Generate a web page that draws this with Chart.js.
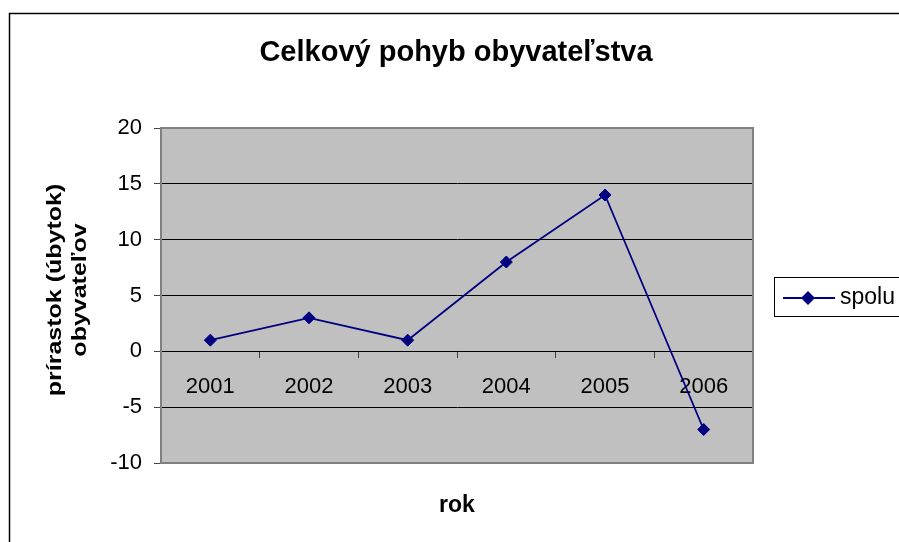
<!DOCTYPE html>
<html>
<head>
<meta charset="utf-8">
<script src="https://cdn.jsdelivr.net/npm/chart.js@4"></script>
<style>
  body { margin: 0; background: #fff; }
  canvas { display: block; }
</style>
</head>
<body>
<canvas id="graf" width="899" height="542"></canvas>
<script>
// data
const roky = ['2001', '2002', '2003', '2004', '2005', '2006'];
const spolu = [1, 3, 1, 8, 14, -7];
const yTicks = [20, 15, 10, 5, 0, -5, -10];

const FONT = '"Liberation Sans", Arial, sans-serif';
const NAVY = '#000080';

// frame, plot background, titles and legend
const decor = {
  id: 'decor',
  beforeDraw(chart) {
    const ctx = chart.ctx, a = chart.chartArea;
    ctx.save();
    ctx.fillStyle = '#c0c0c0';
    ctx.fillRect(a.left, a.top, a.right - a.left, a.bottom - a.top);
    ctx.restore();
  },
  afterDraw(chart) {
    const ctx = chart.ctx, a = chart.chartArea;
    ctx.save();
    // plot border
    ctx.strokeStyle = '#808080';
    ctx.lineWidth = 2;
    ctx.strokeRect(a.left, a.top, a.right - a.left, a.bottom - a.top);
    // outer chart border
    ctx.strokeStyle = '#000';
    ctx.lineWidth = 1.5;
    ctx.strokeRect(9.5, 13.5, 1000, 1000);

    ctx.fillStyle = '#000';
    ctx.textAlign = 'center';
    ctx.textBaseline = 'middle';
    ctx.font = 'bold 29px ' + FONT;
    ctx.fillText('Celkový pohyb obyvateľstva', 456, 53);

    ctx.font = 'bold 23px ' + FONT;
    ctx.fillText('rok', 457, 506);

    // y title, a bit stretched along the text like the original
    ctx.save();
    ctx.translate(0, 290);
    ctx.rotate(-Math.PI / 2);
    ctx.scale(1.25, 1);
    ctx.font = 'bold 20px ' + FONT;
    ctx.fillText('prírastok (úbytok)', 0, 55);
    ctx.fillText('obyvateľov', 0, 80);
    ctx.restore();

    // legend
    ctx.fillStyle = '#fff';
    ctx.fillRect(774, 277, 200, 39);
    ctx.strokeStyle = '#000';
    ctx.lineWidth = 1;
    ctx.strokeRect(774.5, 277.5, 200, 39);
    ctx.strokeStyle = NAVY;
    ctx.lineWidth = 2;
    ctx.beginPath();
    ctx.moveTo(783, 298);
    ctx.lineTo(835, 298);
    ctx.stroke();
    ctx.fillStyle = NAVY;
    ctx.beginPath();
    ctx.moveTo(801, 298); ctx.lineTo(808, 291); ctx.lineTo(815, 298); ctx.lineTo(808, 305);
    ctx.closePath();
    ctx.fill();
    ctx.fillStyle = '#000';
    ctx.textAlign = 'left';
    ctx.font = '23px ' + FONT;
    ctx.fillText('spolu', 840, 298);
    ctx.restore();
  }
};

new Chart(document.getElementById('graf'), {
  type: 'line',
  data: {
    labels: roky,
    datasets: [{
      label: 'spolu',
      data: spolu,
      borderColor: NAVY,
      backgroundColor: NAVY,
      borderWidth: 1.8,
      pointStyle: 'rectRot',
      pointRadius: 6,
      pointBorderWidth: 1,
      tension: 0,
      clip: false
    }]
  },
  options: {
    responsive: false,
    animation: false,
    layout: { padding: { left: 0, top: 128, right: 146, bottom: 79 } },
    plugins: {
      legend: { display: false },
      title: { display: false },
      tooltip: { enabled: false }
    },
    scales: {
      y: {
        min: -10,
        max: 20,
        afterFit(scale) { scale.width = 161; },
        afterBuildTicks(scale) { scale.ticks = yTicks.map(v => ({ value: v })); },
        ticks: { color: '#000', font: { family: FONT, size: 22 }, padding: 12 },
        grid: {
          color: c => (c.tick && (c.tick.value === 20 || c.tick.value === -10)) ? '#808080' : '#000',
          tickColor: '#404040',
          tickLength: 7,
          lineWidth: 1
        },
        border: { color: '#808080', width: 2 }
      },
      x: {
        position: { y: 0 },
        offset: true,
        ticks: { color: '#000', font: { family: FONT, size: 22 }, padding: 16, maxRotation: 0 },
        grid: {
          offset: true,
          drawOnChartArea: false,
          tickColor: '#404040',
          tickLength: 6
        },
        border: { color: '#000', width: 1 }
      }
    }
  },
  plugins: [decor]
});
</script>
</body>
</html>
